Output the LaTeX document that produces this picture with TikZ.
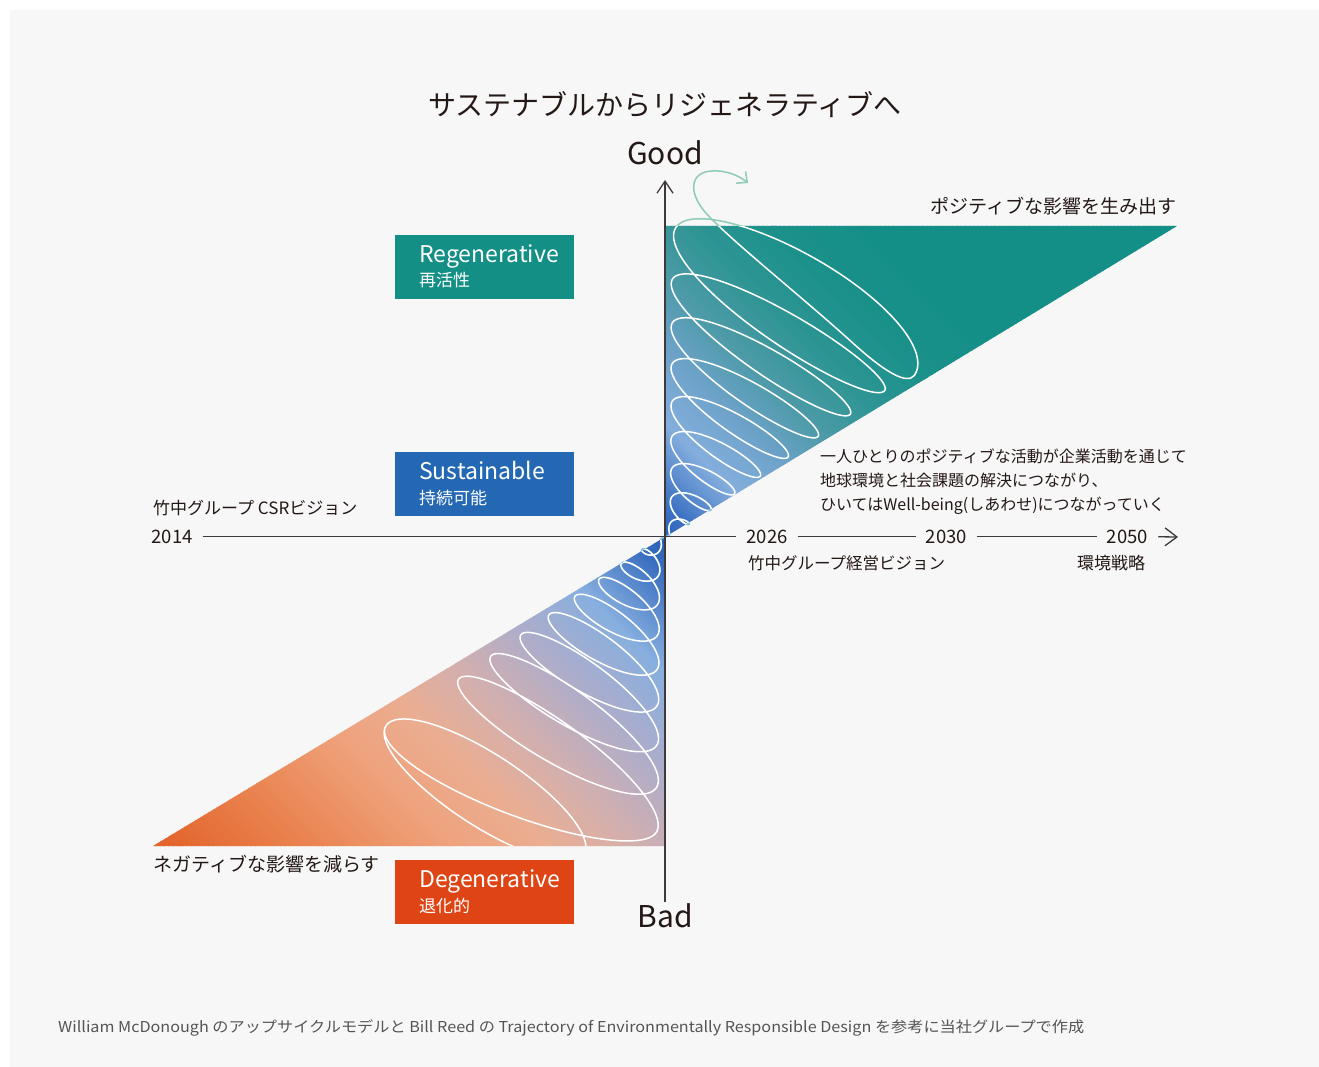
\documentclass[tikz,border=0pt]{standalone}
\usepackage{fontspec}
\usepackage{graphicx}
\setmainfont{Noto Sans CJK JP}
\usetikzlibrary{arrows.meta}
\definecolor{bgpanel}{HTML}{F7F7F7}
\definecolor{ink}{HTML}{231815}
\definecolor{axisc}{HTML}{3E3A39}
\definecolor{regc}{HTML}{148F86}
\definecolor{susc}{HTML}{2468B4}
\definecolor{degc}{HTML}{DF4514}
\definecolor{exitc}{HTML}{8DCBB4}
\definecolor{nearc}{HTML}{80C4E4}
\definecolor{footc}{HTML}{555555}
% top gradient stops
\definecolor{ta}{HTML}{2C62B8}
\definecolor{tb}{HTML}{3F74C4}
\definecolor{tc}{HTML}{84AEDD}
\definecolor{td}{HTML}{6CA2C8}
\definecolor{te}{HTML}{4B9AA6}
\definecolor{tf}{HTML}{2F9594}
\definecolor{tg}{HTML}{1A918A}
\definecolor{th}{HTML}{148F87}
% lower gradient stops
\definecolor{la}{HTML}{2A60B5}
\definecolor{lb}{HTML}{3A6EC0}
\definecolor{lc}{HTML}{87AFDF}
\definecolor{ld}{HTML}{ADADCB}
\definecolor{le}{HTML}{D2AFAF}
\definecolor{lf}{HTML}{EAAE92}
\definecolor{lg}{HTML}{EFA27C}
\definecolor{lh}{HTML}{EA8654}
\definecolor{li}{HTML}{E4672F}
\definecolor{lj}{HTML}{E05A24}
\newcommand{\gradbands}[1]{%
  \foreach \da/\db/\ca/\cb in {#1}{%
    \pgfmathtruncatemacro{\nn}{(\db-\da)/3}%
    \foreach \ii in {0,...,\nn}{%
      \pgfmathsetmacro{\dd}{\da+3*\ii}%
      \pgfmathsetmacro{\pp}{min(100,(\ii/(\db-\da))*300)}%
      \fill[\cb!\pp!\ca] (\dd,-900) rectangle (\dd+3.8,900);
    }%
  }%
}
\tikzset{
  txt/.style={inner sep=0pt, text=ink},
  boxtxt/.style={inner sep=0pt, text=white, anchor=base west},
  lbox/.style={draw=none, minimum width=179pt, minimum height=64pt, inner sep=0pt},
  axisline/.style={draw=axisc, line width=1.3pt},
  yearlbl/.style={inner ysep=0pt, inner xsep=10pt, text=ink, anchor=base, font=\fontsize{18.5}{22}\selectfont},
  spiralline/.style={line width=1.5pt, line join=round},
}
\begin{document}
\begin{tikzpicture}[x=1pt,y=-1pt,
  declare function={
    sd(\k)=7*\k/(\k+0.3);
    sat(\k)=10.5*\k+0.65*\k*\k;
    sth(\k)=32+5*min(1,max(0,\k-8));
    sbt(\k)=0.13*sat(\k)+9*(1-exp(-\k/1.5))+30*max(0,\k-8)*max(0,\k-8);
    sal(\k)=10*\k+0.6*\k*\k;
    lm(\k)=min(1,max(0,(\k-8.5)*2));
    lsm(\k)=lm(\k)*lm(\k)*(3-2*lm(\k));
    lar(\k)=(1-lsm(\k))*sal(\k)+lsm(\k)*118;
    lcx(\k)=(1-lsm(\k))*(665-sd(\k)-0.85*sal(\k))+lsm(\k)*485;
    lcy(\k)=(1-lsm(\k))*(537+1.75*sal(\k))+lsm(\k)*790;
    lbr(\k)=(1-lsm(\k))*(0.17*sal(\k)+10*(1-exp(-\k/1.5)))+lsm(\k)*36;
  }]
\fill[white] (0,0) rectangle (1319,1067);
\fill[bgpanel] (10,10) rectangle (1319,1067);
\useasboundingbox (0,0) rectangle (1319,1067);

% title
\node[txt, anchor=base, font=\fontsize{28}{34}\selectfont] (title) at (665,116) {サステナブルからリジェネラティブへ};

% top triangle gradient
\begin{scope}
  \clip (665,226) -- (1177,226) -- (665,537) -- cycle;
  \begin{scope}[shift={(665,537)}, rotate=45]
    \gradbands{0/25/ta/tb, 25/80/tb/tc, 80/135/tc/td, 135/185/td/te, 185/235/te/tf, 235/295/tf/tg, 295/360/tg/th, 360/640/th/th}
  \end{scope}
\end{scope}
% lower triangle gradient
\begin{scope}
  \clip (665,537) -- (665,846) -- (153,846) -- cycle;
  \begin{scope}[shift={(665,537)}, rotate=225]
    \gradbands{0/25/la/lb, 25/95/lb/lc, 95/165/lc/ld, 165/235/ld/le, 235/300/le/lf, 300/370/lf/lg, 370/460/lg/lh, 460/560/lh/li, 560/660/li/lj}
  \end{scope}
\end{scope}

% spiral
\coordinate (exittop) at (712,171);
\coordinate (arrowtip) at (748,183);
\path[save path=\spiralpath]
  plot[domain=3600:0, samples=720, smooth, variable=\t]
   ({lcx(\t/360)-lar(\t/360)*cos(\t)*0.839+lbr(\t/360)*sin(\t)*0.545},
    {lcy(\t/360)-lar(\t/360)*cos(\t)*0.545-lbr(\t/360)*sin(\t)*0.839})
  -- plot[domain=0:3240, samples=650, smooth, variable=\t]
   ({665+sd(\t/360)+0.85*sat(\t/360)+sat(\t/360)*cos(\t)*cos(sth(\t/360))-sbt(\t/360)*sin(\t)*sin(sth(\t/360))},
    {537-1.7*sat(\t/360)+sat(\t/360)*cos(\t)*sin(sth(\t/360))+sbt(\t/360)*sin(\t)*cos(sth(\t/360))})
  .. controls (907,385) and (885,372) .. (855,345)
  .. controls (800,295) and (730,240) .. (705,212)
  .. controls (688,192) and (690,172) .. (exittop);
\begin{scope}
  \clip (640,140) rectangle (820,226.5);
  \draw[spiralline, exitc, use path=\spiralpath];
\end{scope}
\begin{scope}
  \clip (600,470) rectangle (730,600);
  \draw[spiralline, nearc, use path=\spiralpath];
\end{scope}
\begin{scope}
  \clip (665,226) -- (1177,226) -- (665,537) -- cycle
        (665,537) -- (665,846) -- (153,846) -- cycle;
  \draw[spiralline, white, use path=\spiralpath];
\end{scope}
\draw[spiralline, exitc, -{Straight Barb[length=8pt,width=15pt]}] (exittop) .. controls (725,170) and (738,175) .. (arrowtip);

% vertical axis
\coordinate (vtop) at (665,180);
\coordinate (vbot) at (665,902);
\draw[axisline, -{Straight Barb[length=12pt,width=16pt]}] (vbot) -- (vtop);
\node[txt, anchor=base, font=\fontsize{30}{36}\selectfont] (good) at (665,165) {Good};
\node[txt, anchor=base, font=\fontsize{30}{36}\selectfont] (bad) at (665,927) {Bad};

% horizontal axis
\node[yearlbl] (y2014) at (172,543) {2014};
\node[yearlbl] (y2026) at (767,543) {2026};
\node[yearlbl] (y2030) at (946.5,543) {2030};
\node[yearlbl] (y2050) at (1127.5,543) {2050};
\coordinate (hend) at (1178,537);
\draw[axisline] (y2014) -- (y2026);
\draw[axisline] (y2026) -- (y2030);
\draw[axisline] (y2030) -- (y2050);
\draw[axisline, -{Straight Barb[length=12pt,width=18pt]}] (y2050) -- (hend);

% labels
\node[txt, anchor=base east, font=\fontsize{19}{23}\selectfont] (poslbl) at (1177,214) {ポジティブな影響を生み出す};
\node[txt, anchor=base west, font=\fontsize{19}{23}\selectfont] (neglbl) at (153,871) {ネガティブな影響を減らす};
\node[txt, anchor=base west, font=\fontsize{17}{21}\selectfont] (csr) at (153,514) {竹中グループ CSRビジョン};
\node[txt, anchor=base west, font=\fontsize{16.5}{21}\selectfont] (keiei) at (748,569) {竹中グループ経営ビジョン};
\node[txt, anchor=base west, font=\fontsize{17}{21}\selectfont] (kankyo) at (1077,569) {環境戦略};
\node[txt, anchor=base west, font=\fontsize{16}{20}\selectfont] (para1) at (820,462) {一人ひとりのポジティブな活動が企業活動を通じて};
\node[txt, anchor=base west, font=\fontsize{16}{20}\selectfont] (para2) at (820,486) {地球環境と社会課題の解決につながり、};
\node[txt, anchor=base west, font=\fontsize{16}{20}\selectfont] (para3) at (820,510) {ひいてはWell-being(しあわせ)につながっていく};

% legend boxes
\node[lbox, fill=regc] (regbox) at (484.5,267) {};
\node[boxtxt, font=\fontsize{23}{27}\selectfont] (regen) at (419,262) {Regenerative};
\node[boxtxt, font=\fontsize{17}{21}\selectfont] (regja) at (419,287) {再活性};
\node[lbox, fill=susc] (susbox) at (484.5,484) {};
\node[boxtxt, font=\fontsize{23}{27}\selectfont] (susen) at (419,479) {Sustainable};
\node[boxtxt, font=\fontsize{17}{21}\selectfont] (susja) at (419,504) {持続可能};
\node[lbox, fill=degc] (degbox) at (484.5,892) {};
\node[boxtxt, font=\fontsize{23}{27}\selectfont] (degen) at (419,887) {Degenerative};
\node[boxtxt, font=\fontsize{17}{21}\selectfont] (degja) at (419,912) {退化的};

% footer
\node[inner sep=0pt, anchor=base west, text=footc, font=\fontsize{15}{18}\selectfont] (foot) at (58,1032)
  {\resizebox{1026pt}{\height}{William McDonough のアップサイクルモデルと Bill Reed の Trajectory of Environmentally Responsible Design を参考に当社グループで作成}};
\end{tikzpicture}
\end{document}
